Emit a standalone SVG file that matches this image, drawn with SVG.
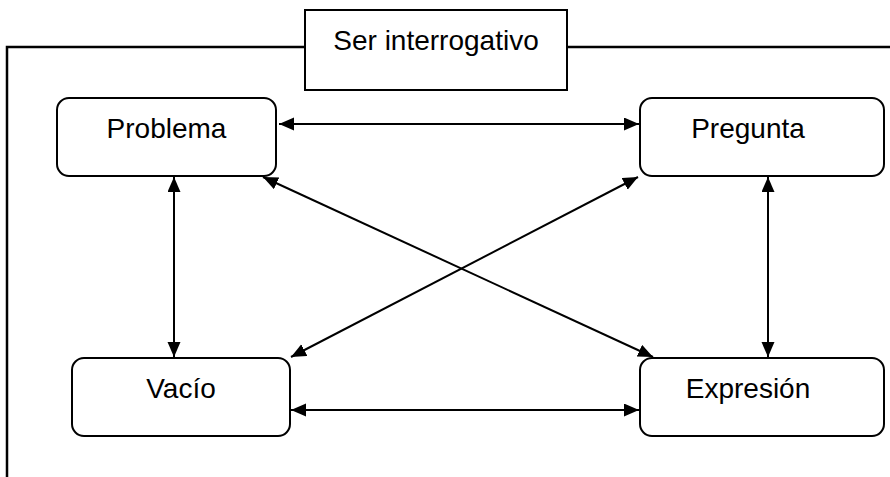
<svg xmlns="http://www.w3.org/2000/svg" width="890" height="477" viewBox="0 0 890 477">
<style>
.box{fill:#fff;stroke:#000;stroke-width:2}
.lbl{font-family:"Liberation Sans",Arial,sans-serif;font-size:28px;fill:#000;text-anchor:middle}
.con{stroke:#000;stroke-width:2;fill:none;marker-start:url(#ah);marker-end:url(#ah)}
</style>
<defs>
<marker id="ah" markerUnits="userSpaceOnUse" markerWidth="16" markerHeight="14" refX="15" refY="6.5" orient="auto-start-reverse" viewBox="0 0 16 14">
<path d="M0,0 L15,6.5 L0,13 z" fill="#000"/>
</marker>
</defs>
<rect width="890" height="477" fill="#fff"/>
<g id="frame">
<polyline points="7,477 7,47 890,47" fill="none" stroke="#000" stroke-width="2.5"/>
</g>
<g id="title">
<rect class="box" x="305" y="10" width="262" height="80"/>
<text class="lbl" x="436" y="50">Ser interrogativo</text>
</g>
<g id="connectors">
<line class="con" x1="279" y1="124" x2="639" y2="124"/>
<line class="con" x1="291" y1="410" x2="639" y2="410"/>
<line class="con" x1="174" y1="177" x2="174" y2="357"/>
<line class="con" x1="768" y1="177" x2="768" y2="357"/>
<line class="con" x1="263" y1="177" x2="653" y2="357"/>
<line class="con" x1="638" y1="177" x2="291" y2="357"/>
</g>
<g id="problema">
<rect class="box" x="57" y="98" width="219" height="78" rx="12"/>
<text class="lbl" x="166.5" y="138">Problema</text>
</g>
<g id="pregunta">
<rect class="box" x="640" y="98" width="244" height="78" rx="12"/>
<text class="lbl" x="748" y="138">Pregunta</text>
</g>
<g id="vacio">
<rect class="box" x="72" y="358" width="218" height="78" rx="12"/>
<text class="lbl" x="181" y="398">Vacío</text>
</g>
<g id="expresion">
<rect class="box" x="640" y="358" width="244" height="78" rx="12"/>
<text class="lbl" x="748" y="398">Expresión</text>
</g>
</svg>
